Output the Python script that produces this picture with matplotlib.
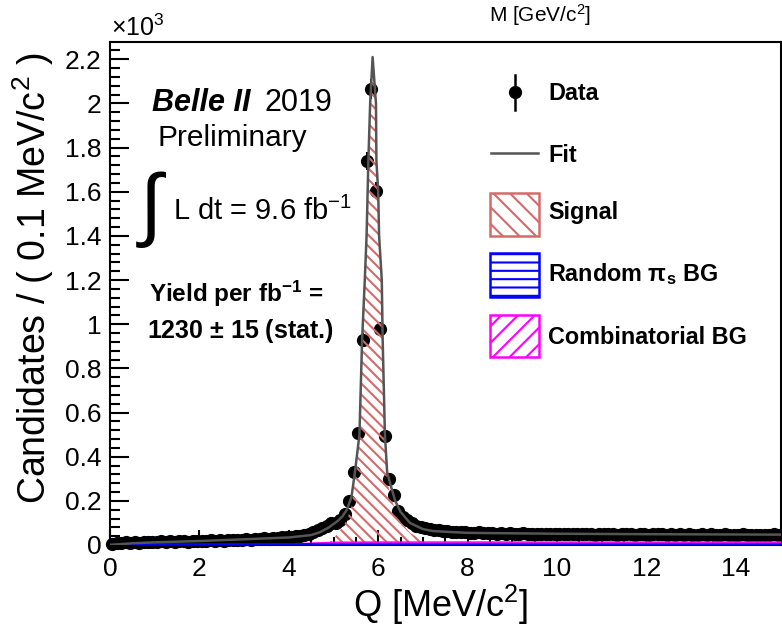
import numpy as np
import matplotlib
matplotlib.use("Agg")
import matplotlib.pyplot as plt
from matplotlib.patches import Rectangle
from matplotlib.lines import Line2D
from matplotlib.ticker import MultipleLocator, FuncFormatter

# Q distribution of D* candidates, 0.1 MeV/c^2 bins from 0 to 15 MeV/c^2
bin_width = 0.1
q_centers = np.arange(150) * bin_width + 0.05

counts = np.array([
    4, 8, 9, 12, 10, 13, 11, 14, 12, 15,
    13, 16, 14, 17, 15, 18, 16, 15, 19, 17,
    20, 18, 21, 19, 22, 20, 23, 21, 24, 22,
    26, 24, 28, 27, 30, 29, 32, 31, 34, 36,
    38, 40, 43, 46, 50, 58, 66, 78, 88, 98,
    100, 115, 140, 198, 330, 505, 930, 1740, 2065, 1605,
    980, 495, 300, 225, 155, 128, 112, 98, 88, 82,
    76, 72, 70, 66, 64, 62, 61, 60, 58, 57,
    56, 55, 57, 54, 53, 55, 52, 54, 51, 53,
    52, 50, 53, 51, 52, 49, 51, 50, 52, 48,
    51, 49, 50, 52, 48, 50, 49, 51, 47, 50,
    48, 50, 49, 47, 51, 48, 49, 46, 50, 48,
    47, 49, 48, 50, 46, 48, 47, 49, 46, 48,
    47, 45, 48, 46, 49, 47, 45, 48, 46, 47,
    46, 48, 45, 47, 46, 44, 47, 45, 48, 46,
])

# total fit curve
fit_q = [0.0, 0.5, 1.0, 2.0, 3.0, 4.0, 4.5, 4.7, 4.9, 5.0, 5.1, 5.2, 5.3, 5.4,
         5.48, 5.58, 5.64, 5.70, 5.74, 5.78, 5.82, 5.875, 5.95, 5.96, 6.00,
         6.02, 6.08, 6.10, 6.15, 6.20, 6.28, 6.38, 6.5, 6.71, 7.0, 7.23, 7.5,
         8.0, 10.0, 12.0, 15.0]
fit_val = [0, 8, 12, 18, 26, 34, 45, 58, 80, 95, 110, 130, 160, 215,
           330, 500, 930, 1200, 1400, 1740, 2000, 2210, 2000, 1740, 1600,
           1400, 1200, 930, 500, 330, 270, 200, 150, 100, 72, 63, 60,
           55, 51, 49, 47]

# signal component
sig_q = [4.85, 5.0, 5.1, 5.2, 5.3, 5.4, 5.48, 5.58, 5.64, 5.70, 5.74, 5.78,
         5.82, 5.875, 5.95, 5.96, 6.00, 6.02, 6.08, 6.10, 6.15, 6.20, 6.28,
         6.38, 6.5, 6.71, 7.0, 7.25]
sig_val = [0, 30, 55, 80, 115, 170, 290, 460, 890, 1160, 1360, 1700,
           1960, 2170, 1960, 1700, 1560, 1360, 1160, 890, 460, 290, 225,
           155, 105, 55, 20, 0]

# background components
bkg_q = [0.0, 2.0, 4.0, 4.5, 5.0, 6.0, 8.0, 15.0]
rnd_val = [4, 4, 4, 4, 4, 4, 4, 4]
comb_val = [0, 1, 3, 8, 12, 13, 13, 13]

legend_labels = ["Data", "Fit", "Signal", r"Random $\pi_{\mathbf{s}}$ BG", "Combinatorial BG"]

sig_color = "#d46a6a"
fit_color = "#555555"

plt.rcParams["font.family"] = ["Liberation Sans", "DejaVu Sans"]
plt.rcParams["mathtext.fontset"] = "custom"
plt.rcParams["mathtext.rm"] = "Liberation Sans"
plt.rcParams["mathtext.it"] = "Liberation Sans:italic"
plt.rcParams["mathtext.bf"] = "Liberation Sans:bold"
plt.rcParams["mathtext.default"] = "regular"
plt.rcParams["hatch.linewidth"] = 1.5

W, H = 782, 632
fig = plt.figure(figsize=(W / 100, H / 100), dpi=100)


def fx(px):
    return px / W


def fy(py):
    return 1 - py / H


ax = fig.add_axes([fx(110), fy(545), (780.5 - 110) / W, (545 - 42) / H])

# data with poisson errors
ax.errorbar(q_centers, counts, yerr=np.sqrt(counts), fmt="o", color="black",
            ms=8.5, elinewidth=1.5, capsize=0, clip_on=False, zorder=2)

ax.fill_between(sig_q, 0, sig_val, facecolor="none", edgecolor=sig_color,
                hatch="\\\\\\", linewidth=0, zorder=3)
ax.fill_between(bkg_q, 0, comb_val, facecolor="none", edgecolor="magenta",
                hatch="/", linewidth=1.2, zorder=3)
ax.fill_between(bkg_q, 0, rnd_val, facecolor="none", edgecolor="blue",
                hatch="--", linewidth=2, zorder=3)
ax.plot(fit_q, fit_val, color=fit_color, lw=1.8, zorder=4)

ax.set_xlim(0, 15)
ax.set_ylim(0, 2278)
ax.xaxis.set_major_locator(MultipleLocator(2))
ax.xaxis.set_minor_locator(MultipleLocator(0.5))
ax.yaxis.set_major_locator(MultipleLocator(200))
ax.yaxis.set_minor_locator(MultipleLocator(40))
ax.yaxis.set_major_formatter(FuncFormatter(lambda v, p: "%g" % (v / 1000)))

ax.tick_params(axis="both", which="both", direction="in", width=1.5,
               top=False, right=False, labelsize=19)
ax.tick_params(axis="x", which="major", length=11, pad=9)
ax.tick_params(axis="x", which="minor", length=5.5)
ax.tick_params(axis="y", which="major", length=14, pad=6)
ax.tick_params(axis="y", which="minor", length=7)
for s in ax.spines.values():
    s.set_linewidth(1.5)

fig.text(fx(441), fy(605), r"Q [MeV/c$^2$]", fontsize=26, ha="center", va="center")
fig.text(fx(33), fy(278), r"Candidates / ( 0.1 MeV/c$^2$ )", fontsize=27,
         rotation=90, ha="center", va="center")
fig.text(fx(111), fy(36), r"$\times$10$^3$", fontsize=18, ha="left", va="baseline")
fig.text(fx(489), fy(22), r"M [GeV/c$^2$]", fontsize=15, ha="left", va="baseline")

# experiment labels
fig.text(fx(152), fy(111), "Belle II", fontsize=22, fontweight="bold",
         fontstyle="italic", ha="left", va="baseline")
fig.text(fx(265), fy(111), "2019", fontsize=22, ha="left", va="baseline")
fig.text(fx(158), fy(146), "Preliminary", fontsize=21.5, ha="left", va="baseline")
fig.text(fx(140), fy(231), "\u222b", fontsize=58, ha="left", va="baseline")
fig.text(fx(173), fy(220), r"L dt = 9.6 fb$^{-1}$", fontsize=21, ha="left", va="baseline")
fig.text(fx(149), fy(302), r"Yield per fb$^{\mathbf{-1}}$ =", fontsize=17.5,
         fontweight="bold", ha="left", va="baseline")
fig.text(fx(147), fy(338), r"1230 $\pm$ 15 (stat.)", fontsize=18,
         fontweight="bold", ha="left", va="baseline")

# legend
text_x = 548
rows_y = [94, 155, 213, 274, 337]
for lab, yy in zip(legend_labels, rows_y):
    fig.text(fx(text_x), fy(yy), lab, fontsize=16.8, fontweight="bold",
             ha="left", va="center")

fig.add_artist(Line2D([fx(515), fx(515)], [fy(75), fy(110)], color="black", lw=1.8))
fig.add_artist(Line2D([fx(515)], [fy(92)], marker="o", ms=8.5, color="black"))
fig.add_artist(Line2D([fx(491), fx(538)], [fy(153), fy(153)], color=fit_color, lw=1.8))
box_specs = [(193, 236, sig_color, "\\\\"), (253, 297, "blue", "--"), (315, 357, "magenta", "//")]
for top, bot, col, hat in box_specs:
    fig.add_artist(Rectangle((fx(490), fy(bot)), fx(539) - fx(490), fy(top) - fy(bot),
                             transform=fig.transFigure, facecolor="none",
                             edgecolor=col, hatch=hat, linewidth=1.8))

fig.savefig("out.png", dpi=100)
